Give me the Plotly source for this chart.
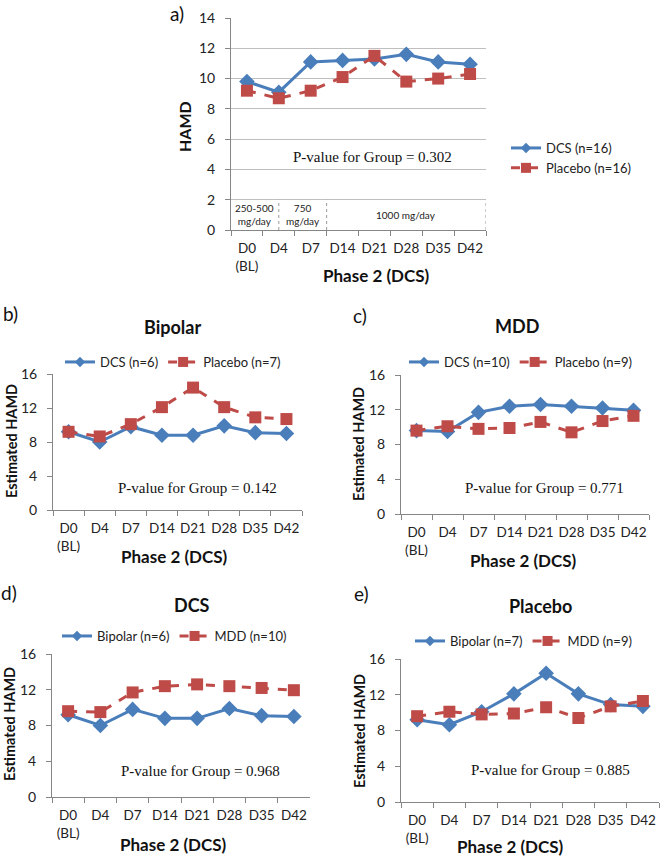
import plotly.graph_objects as go

# ---------------- data ----------------
days = ["D0<br>(BL)", "D4", "D7", "D14", "D21", "D28", "D35", "D42"]

a_dcs = [9.8, 9.1, 11.1, 11.2, 11.3, 11.6, 11.1, 10.95]
a_placebo = [9.2, 8.7, 9.2, 10.1, 11.5, 9.8, 10.0, 10.3]

bip_dcs = [9.2, 8.0, 9.8, 8.8, 8.8, 9.9, 9.1, 9.0]
bip_placebo = [9.2, 8.65, 10.1, 12.1, 14.4, 12.1, 10.9, 10.7]

mdd_dcs = [9.6, 9.5, 11.7, 12.4, 12.6, 12.4, 12.2, 11.95]
mdd_placebo = [9.6, 10.1, 9.8, 9.9, 10.6, 9.4, 10.7, 11.3]

dose_labels = ["250-500<br>mg/day", "750<br>mg/day", "1000 mg/day"]
dose_label_x = [0.25, 1.75, 5.0]
dose_bounds = [1.0, 2.5, 7.5]

yticks_a = [0, 2, 4, 6, 8, 10, 12, 14]
yticks_b = [0, 4, 8, 12, 16]

BLUE = "#4A7EBB"
RED = "#BE4B48"
W, H = 664, 859
SANS = "Lato"
SERIF = "Liberation Serif"

fig = go.Figure()


def px2x(p):
    return p / W


def px2y(p):
    return 1 - p / H


panels = [
    ("a", 231, 486, 18, 230),
    ("b", 53, 302, 374, 510),
    ("c", 401, 649, 375, 514),
    ("d", 52, 310, 654, 797),
    ("e", 401, 659, 659, 802),
]

series = {
    "a": [("DCS (n=16)", a_dcs), ("Placebo (n=16)", a_placebo)],
    "b": [("DCS (n=6)", bip_dcs), ("Placebo (n=7)", bip_placebo)],
    "c": [("DCS (n=10)", mdd_dcs), ("Placebo (n=9)", mdd_placebo)],
    "d": [("Bipolar (n=6)", bip_dcs), ("MDD (n=10)", mdd_dcs)],
    "e": [("Bipolar (n=7)", bip_placebo), ("MDD (n=9)", mdd_placebo)],
}

legend_pos = {
    "a": (506, 133, "v"),
    "b": (60, 347, "h"),
    "c": (404, 347, "h"),
    "d": (57, 621, "h"),
    "e": (410, 626, "h"),
}

axis_line = "#868686"
layout_updates = {}
for i, (name, x0, x1, yt, yb) in enumerate(panels):
    k = "" if i == 0 else str(i + 1)
    xa, ya = "x" + k, "y" + k
    leg = "legend" if i == 0 else "legend" + str(i + 1)
    (n1, v1), (n2, v2) = series[name]
    fig.add_trace(go.Scatter(
        x=days, y=v1, name=n1, mode="lines+markers", xaxis=xa, yaxis=ya,
        line=dict(color=BLUE, width=3),
        marker=dict(symbol="diamond", size=12, color=BLUE),
        showlegend=False, cliponaxis=False))
    fig.add_trace(go.Scatter(
        x=days, y=v2, name=n2, mode="lines+markers", xaxis=xa, yaxis=ya,
        line=dict(color=RED, width=3, dash="dash"),
        marker=dict(symbol="square", size=12, color=RED),
        showlegend=False, cliponaxis=False))
    # legend entries (smaller symbols, as in the reference)
    fig.add_trace(go.Scatter(
        x=[None], y=[None], name=n1, mode="lines+markers", xaxis=xa, yaxis=ya,
        line=dict(color=BLUE, width=3),
        marker=dict(symbol="diamond", size=8, color=BLUE), legend=leg))
    fig.add_trace(go.Scatter(
        x=[None], y=[None], name=n2, mode="lines+markers", xaxis=xa, yaxis=ya,
        line=dict(color=RED, width=3, dash="dash"),
        marker=dict(symbol="square", size=10, color=RED), legend=leg))
    is_a = name == "a"
    layout_updates["xaxis" + k] = dict(
        domain=[px2x(x0), px2x(x1)], anchor=ya, type="category",
        categoryorder="array", categoryarray=days, automargin=False,
        range=[-0.5, 7.5], tickson="boundaries", ticks="outside", ticklen=5,
        tickcolor=axis_line, showline=True, linecolor=axis_line, linewidth=1,
        showgrid=False, zeroline=False, tickangle=0, ticklabelstandoff=6,
        tickfont=dict(family=SANS, size=13.5, color="#222"))
    layout_updates["yaxis" + k] = dict(
        domain=[px2y(yb), px2y(yt)], anchor=xa, automargin=False,
        range=[0, 14] if is_a else [0, 16],
        tickvals=yticks_a if is_a else yticks_b,
        ticks="outside", ticklen=5, tickcolor=axis_line,
        showline=True, linecolor=axis_line, linewidth=1, ticklabelstandoff=7,
        showgrid=is_a, gridcolor="#BFBFBF", gridwidth=1, zeroline=False,
        tickfont=dict(family=SANS, size=14, color="#222"))
    lx, ly, orient = legend_pos[name]
    layout_updates[leg] = dict(
        x=px2x(lx), y=px2y(ly), xanchor="left", yanchor="top",
        orientation=orient, bgcolor="rgba(0,0,0,0)",
        font=dict(family=SANS, size=13, color="#222"),
        tracegroupgap=0, itemwidth=30)

fig.update_layout(**layout_updates)

ann = []


def text(x, y, s, size, bold=False, family=SANS, rot=0, anchor="center"):
    ann.append(dict(
        x=px2x(x), y=px2y(y), xref="paper", yref="paper",
        text=("<b>%s</b>" % s) if bold else s,
        showarrow=False, xanchor=anchor, yanchor="middle", textangle=rot,
        font=dict(family=family, size=size, color="#111")))


# panel labels
text(177, 13, "a)", 19)
text(10, 313, "b)", 19)
text(360, 315, "c)", 19)
text(9, 592, "d)", 19)
text(361, 593, "e)", 19)

# titles
text(172, 327, "Bipolar", 18, bold=True)
text(517, 326, "MDD", 18, bold=True)
text(192, 605, "DCS", 18, bold=True)
text(540, 606, "Placebo", 18, bold=True)

# axis titles
text(184, 127, "HAMD", 16, bold=True, rot=-90)
text(377, 276, "Phase 2 (DCS)", 17, bold=True)
text(11, 441, "Estimated HAMD", 14.5, bold=True, rot=-90)
text(174, 556, "Phase 2 (DCS)", 17, bold=True)
text(359, 444, "Estimated HAMD", 14.5, bold=True, rot=-90)
text(523, 560, "Phase 2 (DCS)", 17, bold=True)
text(9, 724, "Estimated HAMD", 14.5, bold=True, rot=-90)
text(173, 844, "Phase 2 (DCS)", 17, bold=True)
text(359, 731, "Estimated HAMD", 14.5, bold=True, rot=-90)
text(510, 846, "Phase 2 (DCS)", 17, bold=True)

# p-values
pvals = [("x", "y", 3.95, 4.85, "0.302"), ("x2", "y2", 4.14, 2.55, "0.142"),
         ("x3", "y3", 4.14, 3.05, "0.771"), ("x4", "y4", 4.1, 2.87, "0.968"),
         ("x5", "y5", 4.14, 3.55, "0.885")]
for xr, yr, xv, yv, p in pvals:
    ann.append(dict(x=xv, y=yv, xref=xr, yref=yr, showarrow=False,
                    text="P-value for Group = " + p,
                    font=dict(family=SERIF, size=15, color="#111")))

# dose annotations
for s, xv in zip(dose_labels, dose_label_x):
    ann.append(dict(x=xv, y=1.0, xref="x", yref="y", showarrow=False, text=s,
                    font=dict(family=SANS, size=10, color="#222")))

shapes = []
for xb in dose_bounds:
    shapes.append(dict(type="line", xref="x", yref="y", x0=xb, x1=xb, y0=0, y1=2,
                       line=dict(color="#9a9a9a", width=1, dash="dot")))

fig.update_layout(
    width=W, height=H, margin=dict(l=0, r=0, t=0, b=0, autoexpand=False),
    paper_bgcolor="white", plot_bgcolor="white",
    annotations=ann, shapes=shapes)

fig.write_html("out.html", config={"displayModeBar": False},
               post_script="document.body.style.margin='0';document.body.style.overflow='hidden';")
